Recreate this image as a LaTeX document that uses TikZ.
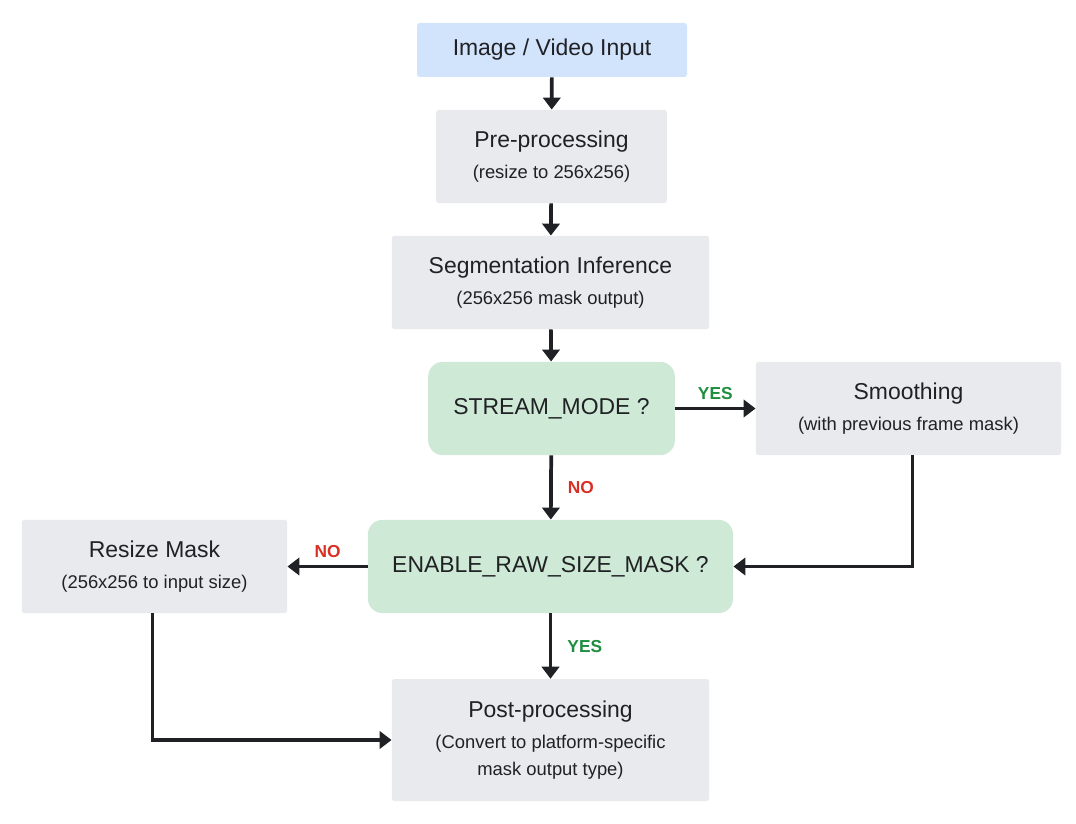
\documentclass[tikz,border=0pt]{standalone}
\usepackage{fontspec}
\setmainfont{Liberation Sans}
\usetikzlibrary{arrows.meta}

\definecolor{inblue}{HTML}{D2E3FC}
\definecolor{procgray}{HTML}{E8EAED}
\definecolor{decgreen}{HTML}{CEEAD6}
\definecolor{yesgreen}{HTML}{1E8E3E}
\definecolor{nored}{HTML}{D93025}
\definecolor{arrowdark}{HTML}{202124}

\newcommand{\subline}[1]{{\fontsize{13.8pt}{16pt}\selectfont #1}}

\begin{document}
\begin{tikzpicture}[
    x=0.75pt, y=-0.75pt,
    >={Triangle[width=13pt,length=9pt]},
    every node/.style={font=\fontsize{17.2pt}{22pt}\selectfont, text=arrowdark},
    procbox/.style={
        fill=procgray,
        rounded corners=2pt,
        align=center,
        inner sep=0pt
    },
    inbox/.style={
        procbox,
        fill=inblue
    },
    decbox/.style={
        fill=decgreen,
        rounded corners=11pt,
        align=center,
        inner sep=0pt
    },
    flow/.style={
        ->,
        draw=arrowdark,
        line width=2.8pt
    },
    yeslabel/.style={
        font=\bfseries\fontsize{13pt}{15pt}\selectfont,
        text=yesgreen
    },
    nolabel/.style={
        font=\bfseries\fontsize{13pt}{15pt}\selectfont,
        text=nored
    }
]
    \useasboundingbox (0,0) rectangle (1076,824);

    % Main column
    \node[inbox, minimum width=202.5pt, minimum height=40.5pt]
        (input) at (552,50) {Image / Video Input};

    \node[procbox, minimum width=173pt, minimum height=70pt]
        (pre) at (551.5,156.5) {Pre-processing\\[1pt]\subline{(resize to 256x256)}};

    \node[procbox, minimum width=238pt, minimum height=70pt]
        (seg) at (550.5,282.5) {Segmentation Inference\\[1pt]\subline{(256x256 mask output)}};

    \node[decbox, minimum width=185pt, minimum height=70pt]
        (stream) at (551.5,408.5) {STREAM\_MODE ?};

    \node[procbox, minimum width=229pt, minimum height=70pt]
        (smooth) at (908.5,408.5) {Smoothing\\[1pt]\subline{(with previous frame mask)}};

    \node[decbox, minimum width=274pt, minimum height=70pt]
        (enable) at (550.5,566.5) {ENABLE\_RAW\_SIZE\_MASK ?};

    \node[procbox, minimum width=199pt, minimum height=70pt]
        (resize) at (154.5,566.5) {Resize Mask\\[1pt]\subline{(256x256 to input size)}};

    \node[procbox, minimum width=238pt, minimum height=91.5pt]
        (post) at (550.5,740) {Post-processing\\[1pt]\subline{(Convert to platform-specific}\\[-2pt]\subline{mask output type)}};

    % Straight arrows
    \draw[flow] (input) -- (pre);
    \draw[flow] (pre) -- (seg);
    \draw[flow] (seg) -- (stream);
    \draw[flow] (stream) -- (smooth)
        node[yeslabel, midway, above=2pt] {YES};
    \draw[flow] (stream) -- (enable)
        node[nolabel, midway, right=8pt] {NO};
    \draw[flow] (enable) -- (resize)
        node[nolabel, midway, above=2pt] {NO};
    \draw[flow] (enable) -- (post)
        node[yeslabel, midway, right=8pt] {YES};

    % Elbow arrows
    \draw[flow] ([xshift=3pt]smooth.south) |- (enable.east);
    \draw[flow] ([xshift=-1.5pt]resize.south) |- (post.west);

\end{tikzpicture}
\end{document}
